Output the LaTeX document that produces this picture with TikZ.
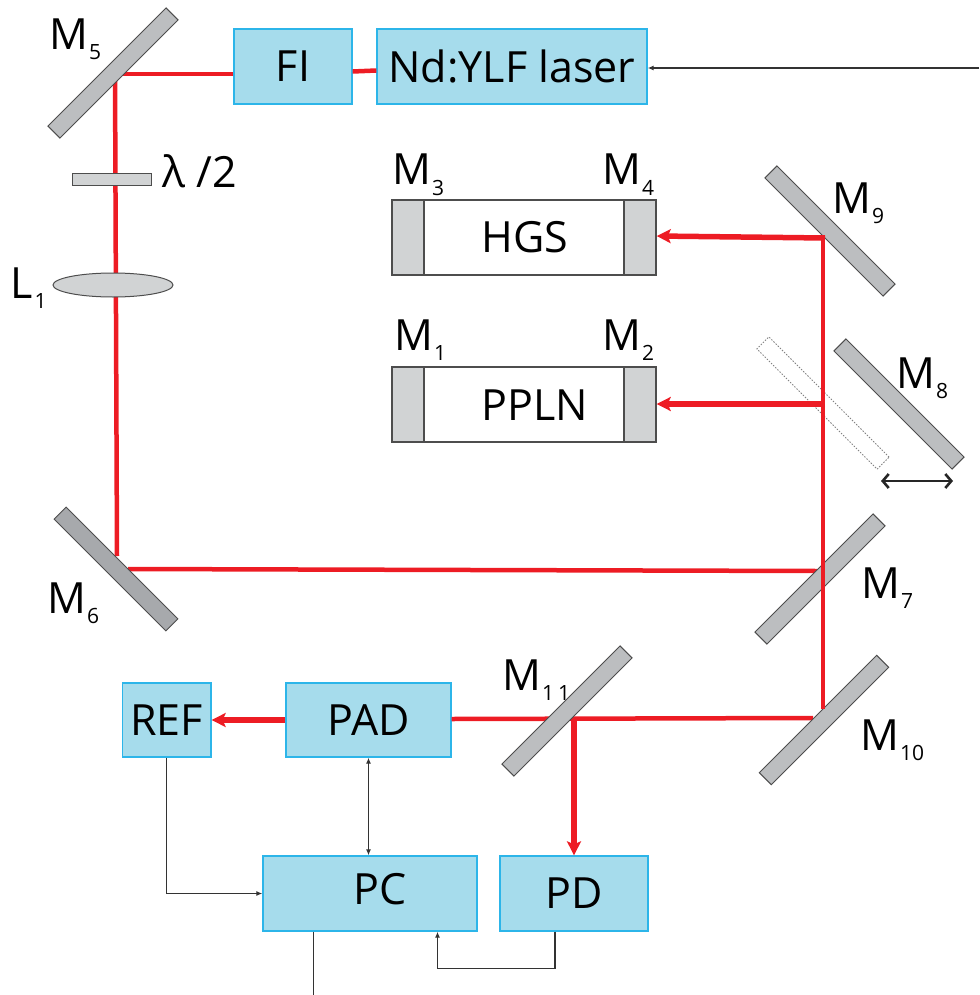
\documentclass[tikz,border=0pt]{standalone}
\usepackage{fontspec}
\setmainfont{Open Sans}
\usetikzlibrary{arrows.meta,calc,shapes.geometric}
\definecolor{boxfill}{HTML}{A6DCEC}
\definecolor{boxline}{HTML}{2CB5E9}
\definecolor{beamred}{HTML}{ED1C24}
\definecolor{mirfill}{HTML}{BCBEC0}
\definecolor{mirdark}{HTML}{A7A9AC}
\definecolor{mirline}{HTML}{4D4D4D}
\definecolor{capfill}{HTML}{D1D3D4}
\definecolor{wirecol}{HTML}{333333}
\newcommand{\Msub}[1]{M\kern1pt\raisebox{-10pt}{\fontsize{21}{21}\selectfont#1}}
\begin{document}
\begin{tikzpicture}[x=1pt,y=-1pt,
  bigtext/.style={font=\fontsize{43}{43}\selectfont},
  box/.style={draw=boxline,fill=boxfill,line width=1.3pt,inner sep=0pt,bigtext},
  lab/.style={bigtext,inner sep=0pt,anchor=base west},
  mirror/.style={draw=mirline,fill=mirfill,line width=1pt,minimum width=167pt,minimum height=17pt,inner sep=0pt},
  ghost/.style={draw=mirline!70,line width=0.8pt,dash pattern=on 1.5pt off 1.5pt,minimum width=170pt,minimum height=17pt,inner sep=0pt},
  crystal/.style={draw=mirline,line width=1.4pt,fill=white,inner sep=0pt,minimum width=264pt,minimum height=75pt},
  endcap/.style={draw=mirline,line width=1.4pt,fill=capfill,inner sep=0pt,minimum width=32pt,minimum height=75pt},
  beam/.style={draw=beamred,line width=4.5pt},
  beamarrow/.style={draw=beamred,line width=5.5pt,-{Stealth[length=14pt,width=14pt,inset=3pt]}},
  wire/.style={draw=wirecol,line width=1.3pt},
  wirearrow/.style={wire,-{Latex[length=6pt,width=5pt]}},
]
\useasboundingbox (0,0) rectangle (979,995);

% ---------- boxes ----------
\node[box,minimum width=118pt,minimum height=75pt] (FI) at (293,66.5) {FI};
\node[box,minimum width=270pt,minimum height=75pt] (laser) at (512,66.5) {Nd:YLF laser};
\node[box,minimum width=88.5pt,minimum height=74pt] (REF) at (166.75,720) {REF};
\node[box,minimum width=165pt,minimum height=74pt] (PAD) at (368.5,720) {PAD};
\node[box,minimum width=214pt,minimum height=75pt] (PC) at (370,893.5) {};
\node[bigtext,inner sep=0pt] (PCt) at (380,889) {PC};
\node[box,minimum width=148pt,minimum height=75pt] (PD) at (574,893.5) {PD};

% ---------- crystals ----------
\node[crystal] (HGS) at (524,237.5) {};
\node[endcap,anchor=west] (M3c) at (HGS.west) {};
\node[endcap,anchor=east] (M4c) at (HGS.east) {};
\node[bigtext,inner sep=0pt] (HGSt) at (525,237) {HGS};
\node[crystal] (PPLN) at (524,404.5) {};
\node[endcap,anchor=west] (M1c) at (PPLN.west) {};
\node[endcap,anchor=east] (M2c) at (PPLN.east) {};
\node[bigtext,inner sep=0pt] (PPLNt) at (535,405) {PPLN};

% ---------- beam points ----------
\coordinate (b5) at (115,74);
\coordinate (b6) at (117,556);
\coordinate (b6h) at (128,569);
\coordinate (b7h) at (817,571);
\coordinate (b9) at (823,236);
\coordinate (b10) at (823,709);
\coordinate (b10h) at (813,718);
\coordinate (b11) at (574,717);

% ---------- beams below mirrors ----------
\draw[beam] ($(laser.west)+(0,4)$) -- ($(FI.east)+(0,5)$);
\draw[beam] ($(FI.west)+(0,7.5)$) -- (b5);
\draw[beam] ($(b5)+(0,-2)$) -- (b6);
\draw[beam] (b6h) -- (b7h);
\draw[beam] (b10h) -- ($(PAD.east)+(0,-1)$);
\draw[beamarrow] (PAD.west) -- (REF.east);
\draw[beamarrow] (b11) -- (b11 |- PD.north);

% ---------- optics ----------
\node[draw=mirline,fill=capfill,line width=1pt,minimum width=79pt,minimum height=12pt,inner sep=0pt] (wp) at (111.5,180) {};
\node[ellipse,draw=mirline,fill=capfill,line width=1pt,minimum width=120pt,minimum height=24pt,inner sep=0pt] (L1) at (113,285) {};

\node[ghost,rotate=-45] (M8g) at (823,403) {};
\node[mirror,rotate=45] (M5) at (113,73) {};
\node[mirror,rotate=-45,fill=mirdark,minimum width=158pt] (M6) at (116,569) {};
\node[mirror,rotate=45] (M7) at (820,579) {};
\node[mirror,rotate=-45] (M8) at (899,404) {};
\node[mirror,rotate=-45] (M9) at (830,231) {};
\node[mirror,rotate=45,minimum width=166pt] (M10) at (824,720) {};
\node[mirror,rotate=45] (M11) at (567,711) {};

% ---------- beams above mirrors ----------
\draw[beam] (b10) -- (b9);
\draw[beamarrow] ($(b9)+(2,2)$) -- (b9 -| M4c.east);
\coordinate (b8) at (823,404);
\draw[beamarrow] ($(b8)+(2,0)$) -- (b8 -| M2c.east);

% ---------- translation arrow ----------
\coordinate (t1) at (881,481);
\coordinate (t2) at (953,481);
\draw[draw=black!85,line width=2.6pt,{Straight Barb[length=6pt,width=14pt]}-{Straight Barb[length=6pt,width=14pt]}] (t1) -- (t2);

% ---------- signal wires ----------
\coordinate (inp) at (979,68);
\draw[wirearrow] (inp) -- (inp -| laser.east);
\draw[wirearrow] (REF.south) |- (PC.west);
\draw[wire,{Latex[length=6pt,width=5pt]}-{Latex[length=6pt,width=5pt]}] (PAD.south) -- (PAD.south |- PC.north);
\coordinate (pdo) at ($(PD.south)+(-19,0)$);
\coordinate (pci) at ($(PC.south)+(67.5,0)$);
\draw[wirearrow] (pdo) -- ++(0,37) -| (pci);
\coordinate (pco) at ($(PC.south)+(-56.4,0)$);
\coordinate (pcend) at (313.6,995);
\draw[wire] (pco) -- (pcend);

% ---------- labels ----------
\node[lab] (lM5) at (49,50) {\Msub{5}};
\node[lab] (lM3) at (392,185) {\Msub{3}};
\node[lab] (lM4) at (602,185) {\Msub{4}};
\node[lab] (lM1) at (394,350) {\Msub{1}};
\node[lab] (lM2) at (602,350) {\Msub{2}};
\node[lab] (lM9) at (832,213) {\Msub{9}};
\node[lab] (lM8) at (896,388) {\Msub{8}};
\node[lab] (lM7) at (861,598) {\Msub{7}};
\node[lab] (lM6) at (47,613) {\Msub{6}};
\node[lab] (lM10) at (860,750) {\Msub{10}};
\node[lab] (lM11) at (502,690) {\Msub{1\kern4pt1}};
\node[lab] (lL1) at (10,298) {L\kern2pt\raisebox{-10pt}{\fontsize{21}{21}\selectfont 1}};
\node[lab] (lwp) at (162,187) {λ /2};
\end{tikzpicture}
\end{document}
